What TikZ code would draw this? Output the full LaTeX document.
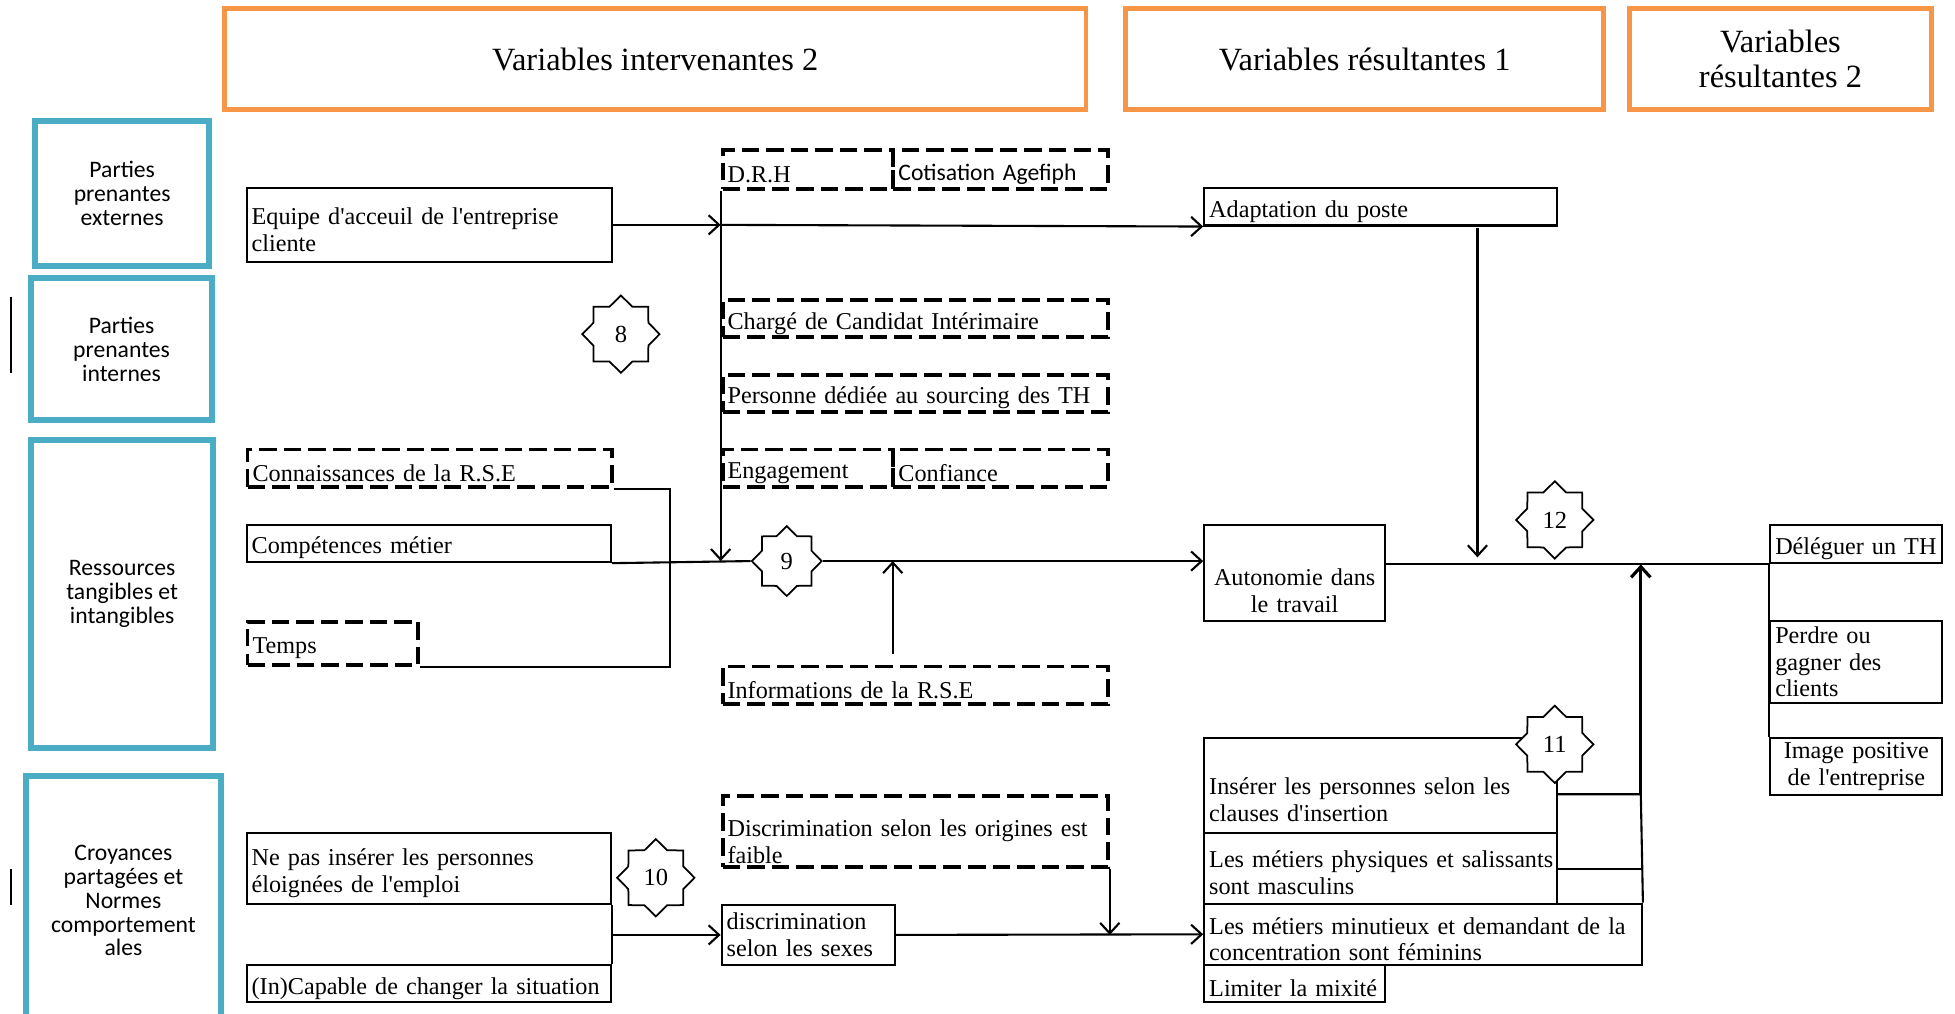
\documentclass[tikz,border=0pt]{standalone}
\usepackage{fontspec}
\setmainfont{Liberation Serif}[Ligatures=TeXOff]
\newfontfamily\calib{Carlito}
\usetikzlibrary{arrows.meta,shapes.geometric}
\definecolor{orangeH}{HTML}{F79646}
\definecolor{blueA}{HTML}{4BACC6}
\tikzset{
  bstrut/.store in=\bxh, bstrut=15pt,
  head/.style={draw=orangeH, line width=2.8pt, minimum height=20.25mm, align=center,
    font=\fontsize{18.5}{20}\selectfont},
  actor/.style={draw=blueA, line width=3.4pt, align=center,
    font=\calib\fontsize{13.5}{13.6}\selectfont},
  box/.style={draw, line width=1.2pt, anchor=north west, align=left, inner xsep=1mm,
    inner ysep=0pt, font=\fontsize{13.8}{15.2}\selectfont,
    execute at begin node={\rule{0pt}{\bxh}}},
  dbox/.style={box, line width=2.2pt, dash pattern=on 10pt off 4pt},
  seal/.style={star, star points=8, star point ratio=1.3, draw, fill=white, line width=1pt,
    inner sep=0pt, minimum size=15.5mm, font=\fontsize{14}{14}\selectfont},
  >={Straight Barb[length=6pt,width=11pt]}
}
\begin{document}
\begin{tikzpicture}[x=0.25mm, y=-0.25mm, line width=1.2pt]
    \useasboundingbox (0,0) rectangle (1568,813);

    % en-tetes
    \node[head, minimum width=172.75mm] (hInt) at (525.5,47.5) {Variables intervenantes 2};
    \node[head, minimum width=95.75mm] (hRes1) at (1094.5,47.5) {Variables résultantes 1};
    \node[head, minimum width=60.5mm] (hRes2) at (1428,47.5) {Variables\\résultantes 2};

    % acteurs
    \node[actor, minimum width=35mm, minimum height=29mm] (pExt) at (98,155) {Parties\\prenantes\\externes};
    \node[actor, minimum width=36.25mm, minimum height=28.5mm] (pInt) at (97.5,280) {Parties\\prenantes\\internes};
    \node[actor, minimum width=36.5mm, minimum height=61.75mm] (ress) at (98,476.5) {Ressources\\tangibles et\\intangibles};
    \node[actor, minimum width=39mm, minimum height=50mm, anchor=north] (croy) at (99,620) {Croyances\\partagées et\\Normes\\comportement\\ales};
    \draw[line width=1.4pt] (9,238) -- (9,299);
    \draw[line width=1.4pt] (9,697) -- (9,726);

    % variables intervenantes
    \node[box, text width=71.25mm, minimum height=14.75mm] (equipe) at (197,150) {Equipe d'acceuil de l'entreprise\\cliente};
    \node[dbox, text width=32.25mm, minimum height=7.75mm] (drh) at (578,119) {D.R.H};
    \node[dbox, text width=41mm, minimum height=7.75mm, font=\calib\fontsize{13.5}{14}\selectfont] (agefiph) at (715,119) {Cotisation Agefiph};
    \node[dbox, text width=75.25mm, minimum height=7.5mm] (charge) at (578,239) {Chargé de Candidat Intérimaire};
    \node[dbox, text width=75.25mm, minimum height=7.5mm] (sourcing) at (578,299) {Personne dédiée au sourcing des TH};
    \node[dbox, text width=32.25mm, minimum height=7.5mm] (engag) at (578,359) {Engagement};
    \node[dbox, text width=41mm, minimum height=7.5mm] (confiance) at (715,359) {Confiance};
    \node[dbox, text width=71mm, minimum height=7.5mm] (connais) at (197,359) {Connaissances de la R.S.E};
    \node[box, text width=71mm, minimum height=7.5mm] (compet) at (197,420) {Compétences métier};
    \node[dbox, text width=32.25mm, minimum height=8.75mm] (temps) at (197,497) {Temps};
    \node[dbox, text width=75.25mm, minimum height=7.5mm] (infos) at (578,533) {Informations de la R.S.E};
    \node[box, text width=71mm, minimum height=14.25mm] (nepas) at (197,667) {Ne pas insérer les personnes\\éloignées de l'emploi};
    \node[box, text width=71mm, minimum height=7.5mm] (capable) at (197,773) {(In)Capable de changer la situation};
    \node[dbox, bstrut=21pt, text width=75.25mm, minimum height=14.25mm] (discrOrig) at (578,637) {Discrimination selon les origines est\\faible};
    \node[box, bstrut=0pt, text width=32.75mm, minimum height=12mm] (discrSexes) at (578,725) {discrimination\\selon les sexes};

    % variables resultantes
    \node[box, text width=68.75mm, minimum height=7.5mm] (adapt) at (965,150) {Adaptation du poste};
    \node[box, bstrut=30pt, text width=34.25mm, minimum height=19.25mm, align=center] (autonomie) at (965,420) {Autonomie dans\\le travail};
    \node[box, bstrut=26pt, text width=68.75mm, minimum height=19mm] (inserer) at (965,591) {Insérer les personnes selon les\\clauses d'insertion};
    \node[box, text width=68.75mm, minimum height=14.25mm] (physiques) at (965,667) {\mbox{Les métiers physiques et salissants}\\sont masculins};
    \node[box, text width=85.75mm, minimum height=12.25mm] (minutieux) at (965,724) {Les métiers minutieux et demandant de la\\concentration sont féminins};
    \node[box, text width=34.25mm, minimum height=7.5mm] (mixite) at (965,773) {Limiter la mixité};
    \node[box, text width=32.5mm, minimum height=7.75mm] (deleguer) at (1419,420) {Déléguer un TH};
    \node[box, bstrut=0pt, text width=32.5mm, minimum height=16.5mm] (perdre) at (1419,497) {Perdre ou\\gagner des\\clients};
    \node[box, bstrut=0pt, text width=32.5mm, minimum height=11.5mm, align=center] (image) at (1419,591) {Image positive\\de l'entreprise};

    % etoiles
    \node[seal] (s8) at (498,268) {8};
    \node[seal, minimum size=14mm] (s9) at (631,450) {9};
    \node[seal] (s10) at (526,704) {10};
    \node[seal] (s11) at (1247,597) {11};
    \node[seal] (s12) at (1247,417) {12};

    \coordinate (jInfo) at (716,450);
    \coordinate (jAd) at (1185,447);
    \coordinate (jUp) at (1316,637);
    \coordinate (jPh) at (1316,697);

    \draw[->] (equipe.east) -- (equipe.east -| drh.west);
    \draw[->] (equipe.east -| drh.west) -- (adapt.south west);
    \draw[->] (drh.south west) -- (drh.south west |- s9.west);
    \draw (connais.south east) -- ++(45,0) |- (temps.south east);
    \draw (compet.south east) -- (s9.west);
    \draw[->] (s9.east) -- (autonomie.west |- s9.east);
    \draw[->] ([yshift=6pt]infos.north -| jInfo) -- (jInfo);
    \draw[->] ([yshift=-1pt]adapt.south -| jAd) -- (jAd);
    \draw (autonomie.east |- deleguer.south west) -- (deleguer.south west);
    \draw (deleguer.south west) -- (image.north west);
    \draw[->, line width=1.8pt] (jUp) -- (jUp |- deleguer.south);
    \draw (inserer.east |- jUp) -- (jUp) -- (minutieux.north east);
    \draw (physiques.east |- jPh) -- (jPh);
    \draw (nepas.south east) -- (capable.north east);
    \draw[->] (nepas.south east |- discrSexes.west) -- (discrSexes.west);
    \draw[->] (discrSexes.east) -- (minutieux.west);
    \draw[->] (discrOrig.south east) -- (discrOrig.south east |- discrSexes.east);
\end{tikzpicture}
\end{document}
